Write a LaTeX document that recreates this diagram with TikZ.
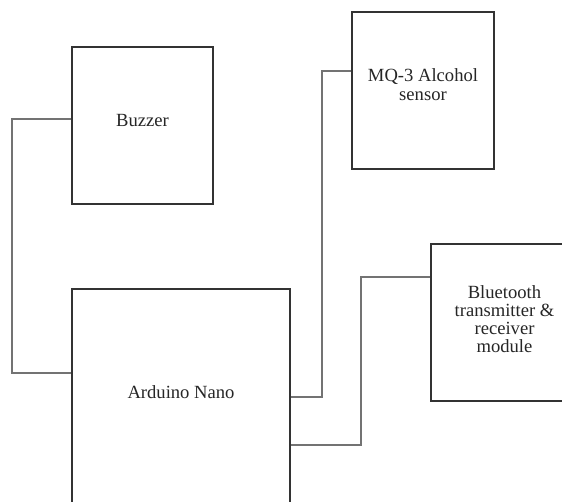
\documentclass[tikz,border=0pt]{standalone}
\usepackage{fontspec}
\setmainfont{Liberation Serif}
\begin{document}
\begin{tikzpicture}[x=1pt,y=-1pt,
  box/.style={draw=black!80,line width=1.8pt,rectangle,align=center,inner sep=0pt,
    text=black!85,font=\fontsize{18.6}{19}\selectfont},
  wire/.style={draw=black!55,line width=1.1pt}]
\useasboundingbox[fill=white] (0,0) rectangle (562,502);
\clip (0,0) rectangle (562,502);
\node[box,minimum width=141pt,minimum height=157pt,text depth=10pt] (buzz) at (142.5,125.5) {Buzzer};
\node[box,minimum width=142pt,minimum height=157pt,text depth=11pt] (mq) at (423,90.5) {MQ-3 Alcohol\\sensor};
\node[box,minimum width=147pt,minimum height=157pt,font=\fontsize{18.6}{18}\selectfont,text depth=7.5pt] (bt) at (504.5,322.5) {Bluetooth\\transmitter \&\\receiver\\module};
\node[box,minimum width=218pt,minimum height=231pt,text depth=24pt] (ard) at (181,404.5) {Arduino Nano};
\draw[wire] (buzz.west |- 0,119) -- (12,119) |- (ard.west |- 0,373);
\draw[wire] (mq.west |- 0,71) -- (322,71) |- (ard.east |- 0,397);
\draw[wire] (bt.west |- 0,277) -- (361,277) |- (ard.east |- 0,445);
\end{tikzpicture}
\end{document}
